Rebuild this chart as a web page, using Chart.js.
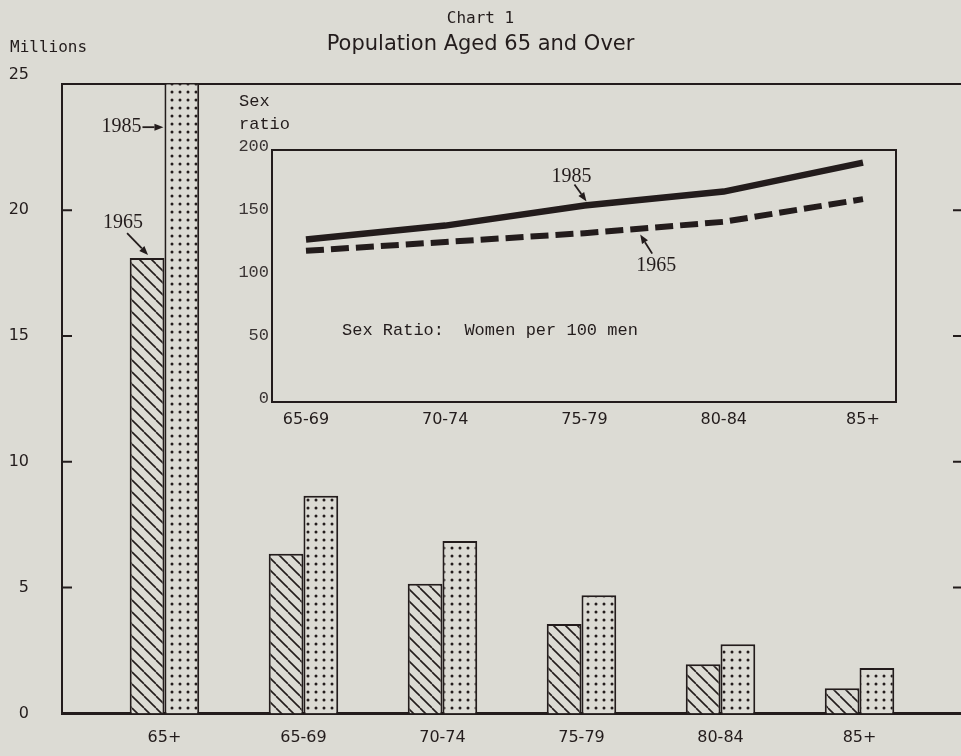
<!DOCTYPE html>
<html>
<head>
<meta charset="utf-8">
<script src="https://cdn.jsdelivr.net/npm/chart.js@4.4.1/dist/chart.umd.min.js"></script>
<style>
  html, body { margin: 0; padding: 0; background: #dcdbd4; }
  #wrap { position: relative; width: 961px; height: 756px; overflow: hidden; }
  #wrap canvas { position: absolute; left: 0; top: 0; }
</style>
</head>
<body>
<div id="wrap">
  <canvas id="main" width="961" height="756"></canvas>
  <canvas id="inset" width="961" height="756"></canvas>
</div>
<script>
const ageGroups = ['65+', '65-69', '70-74', '75-79', '80-84', '85+'];
const pop1965 = [18.1, 6.35, 5.15, 3.55, 1.95, 1.0];
const pop1985 = [26.5, 8.65, 6.85, 4.7, 2.75, 1.8];
const popTicks = [0, 5, 10, 15, 20, 25];

const ratioGroups = ['65-69', '70-74', '75-79', '80-84', '85+'];
const ratio1965 = [120, 127, 134, 143, 161];
const ratio1985 = [129, 140, 156, 167, 190];
const ratioTicks = [0, 50, 100, 150, 200];

const INK = '#231c1c';
const PAPER = '#dcdbd4';
const SANS = "'DejaVu Sans', sans-serif";
const MONO = "'DejaVu Sans Mono', monospace";
const TYPE = "'Liberation Mono', 'Courier New', monospace";
const SERIF = "'Liberation Serif', serif";

const mainCtx = document.getElementById('main').getContext('2d');

function hatchPattern() {
  const c = document.createElement('canvas');
  c.width = 12; c.height = 12;
  const g = c.getContext('2d');
  g.fillStyle = PAPER; g.fillRect(0, 0, 12, 12);
  g.strokeStyle = INK; g.lineWidth = 1.6;
  for (const k of [-12, 0, 12]) {
    g.beginPath(); g.moveTo(k, 0); g.lineTo(k + 12, 12); g.stroke();
  }
  return mainCtx.createPattern(c, 'repeat');
}

function dotPattern() {
  const c = document.createElement('canvas');
  c.width = 8; c.height = 8;
  const g = c.getContext('2d');
  g.fillStyle = PAPER; g.fillRect(0, 0, 8, 8);
  g.fillStyle = INK;
  g.beginPath(); g.arc(4, 4, 1.5, 0, Math.PI * 2); g.fill();
  return mainCtx.createPattern(c, 'repeat');
}

function arrow(ctx, x0, y0, x1, y1) {
  const ang = Math.atan2(y1 - y0, x1 - x0), L = 9, W = 3.5;
  const bx = x1 - L * Math.cos(ang), by = y1 - L * Math.sin(ang);
  ctx.lineWidth = 1.8;
  ctx.beginPath(); ctx.moveTo(x0, y0); ctx.lineTo(bx, by); ctx.stroke();
  ctx.beginPath(); ctx.moveTo(x1, y1);
  ctx.lineTo(bx + W * Math.sin(ang), by - W * Math.cos(ang));
  ctx.lineTo(bx - W * Math.sin(ang), by + W * Math.cos(ang));
  ctx.closePath(); ctx.fill();
}

// inward ticks, axis caption and the year pointers
const mainMarks = {
  id: 'mainMarks',
  afterDraw(chart) {
    const { ctx, chartArea: a, scales: { y } } = chart;
    ctx.save();
    ctx.strokeStyle = INK; ctx.fillStyle = INK; ctx.lineWidth = 2;
    popTicks.slice(1, -1).forEach(v => {
      const py = y.getPixelForValue(v);
      ctx.beginPath();
      ctx.moveTo(a.left, py); ctx.lineTo(a.left + 10, py);
      ctx.moveTo(a.right - 8, py); ctx.lineTo(a.right, py);
      ctx.stroke();
    });

    ctx.font = '16px ' + MONO;
    ctx.textBaseline = 'middle'; ctx.textAlign = 'left';
    ctx.fillText('Millions', 10, 48);

    const b65 = chart.getDatasetMeta(0).data[0];
    const b85 = chart.getDatasetMeta(1).data[0];
    ctx.font = '20px ' + SERIF;

    const t85x = b85.x - b85.width / 2 - 1, t85y = y.getPixelForValue(23.3);
    ctx.textAlign = 'right';
    ctx.fillText('1985', t85x - 22, t85y);
    arrow(ctx, t85x - 21, t85y, t85x, t85y);

    const t65x = b65.x + 1, t65y = b65.y - 3;
    ctx.textAlign = 'center';
    ctx.fillText('1965', t65x - 25, t65y - 32);
    arrow(ctx, t65x - 21, t65y - 22, t65x, t65y);
    ctx.restore();
  }
};

new Chart(mainCtx, {
  type: 'bar',
  data: {
    datasets: [
      {
        label: '1965',
        data: pop1965.map((v, i) => ({ x: i, y: v })),
        backgroundColor: hatchPattern(),
        borderColor: INK,
        borderWidth: 2,
        categoryPercentage: 0.5,
        barPercentage: 1,
        clip: 0
      },
      {
        label: '1985',
        data: pop1985.map((v, i) => ({ x: i, y: v })),
        backgroundColor: dotPattern(),
        borderColor: INK,
        borderWidth: 2,
        categoryPercentage: 0.5,
        barPercentage: 1,
        clip: 0
      }
    ]
  },
  options: {
    responsive: false,
    animation: false,
    devicePixelRatio: 1,
    layout: { padding: 0 },
    plugins: {
      legend: { display: false },
      tooltip: { enabled: false },
      title: {
        display: true, text: 'Chart 1', color: INK,
        font: { family: MONO, size: 16, weight: 'normal' },
        padding: { top: 9, bottom: 0 }
      },
      subtitle: {
        display: true, text: 'Population Aged 65 and Over', color: INK,
        font: { family: SANS, size: 21, weight: 'normal' },
        padding: { top: 4, bottom: 0 }
      }
    },
    scales: {
      x: {
        type: 'linear', position: 'bottom', min: -0.737, max: 5.73, offset: false,
        afterBuildTicks: s => { s.ticks = ageGroups.map((_, i) => ({ value: i })); },
        afterFit: s => { s.height = 37; },
        grid: { display: false, drawTicks: false },
        border: { display: true, color: INK, width: 3 },
        ticks: {
          callback: v => ageGroups[v], color: INK,
          font: { family: SANS, size: 16 }, padding: 15,
          maxRotation: 0, autoSkip: false
        }
      },
      xTop: {
        type: 'linear', position: 'top', min: -0.737, max: 5.73, offset: false,
        afterFit: s => { s.height = 27; },
        grid: { display: false, drawTicks: false },
        border: { display: true, color: INK, width: 2 },
        ticks: { display: false }
      },
      y: {
        min: 0, max: 25,
        afterBuildTicks: s => { s.ticks = popTicks.map(v => ({ value: v })); },
        afterFit: s => { s.width = 62; },
        grid: { display: false, drawTicks: false },
        border: { display: true, color: INK, width: 2 },
        ticks: {
          color: INK, font: { family: SANS, size: 16 }, padding: 33,
          callback: v => (v === 25 ? ['25', ''] : String(v))
        }
      }
    }
  },
  plugins: [mainMarks]
});

// frame, captions and pointers of the sex ratio panel
const insetMarks = {
  id: 'insetMarks',
  afterDraw(chart) {
    const { ctx, chartArea: a, scales: { x, y } } = chart;
    ctx.save();
    ctx.strokeStyle = INK; ctx.fillStyle = INK; ctx.lineWidth = 2;
    ctx.strokeRect(a.left, a.top, a.right - a.left, a.bottom - a.top);

    ctx.font = '17px ' + TYPE;
    ctx.textBaseline = 'middle'; ctx.textAlign = 'left';
    ctx.fillText('Sex', a.left - 33, a.top - 49);
    ctx.fillText('ratio', a.left - 33, a.top - 26);
    ctx.fillText('Sex Ratio:  Women per 100 men', a.left + 70, a.top + 180);

    ctx.font = '20px ' + SERIF;
    ctx.textAlign = 'center';
    const p = chart.getDatasetMeta(0).data[2];
    const t85x = p.x + 2, t85y = p.y - 4;
    ctx.fillText('1985', t85x - 15, t85y - 25);
    arrow(ctx, t85x - 12, t85y - 17, t85x, t85y);

    const v = ratio1965[2] + (ratio1965[3] - ratio1965[2]) * 0.4;
    const t65x = x.getPixelForValue(2.4), t65y = y.getPixelForValue(v) + 6;
    ctx.fillText('1965', t65x + 16, t65y + 31);
    arrow(ctx, t65x + 12, t65y + 19, t65x, t65y);
    ctx.restore();
  }
};

new Chart(document.getElementById('inset'), {
  type: 'line',
  data: {
    datasets: [
      {
        label: '1985',
        data: ratio1985.map((v, i) => ({ x: i, y: v })),
        borderColor: INK, borderWidth: 6.5,
        pointRadius: 0, tension: 0, borderCapStyle: 'butt'
      },
      {
        label: '1965',
        data: ratio1965.map((v, i) => ({ x: i, y: v })),
        borderColor: INK, borderWidth: 6, borderDash: [18, 7],
        pointRadius: 0, tension: 0, borderCapStyle: 'butt'
      }
    ]
  },
  options: {
    responsive: false,
    animation: false,
    devicePixelRatio: 1,
    layout: { padding: { left: 222, right: 65, top: 150, bottom: 324 } },
    plugins: { legend: { display: false }, tooltip: { enabled: false } },
    scales: {
      x: {
        type: 'linear', min: -0.244, max: 4.237,
        afterBuildTicks: s => { s.ticks = ratioGroups.map((_, i) => ({ value: i })); },
        afterFit: s => { s.height = 30; },
        grid: { display: false, drawTicks: false },
        border: { display: false },
        ticks: {
          callback: v => ratioGroups[v], color: INK,
          font: { family: SANS, size: 16 }, padding: 8,
          maxRotation: 0, autoSkip: false
        }
      },
      y: {
        min: 0, max: 200,
        afterBuildTicks: s => { s.ticks = ratioTicks.map(v => ({ value: v })); },
        afterFit: s => { s.width = 50; },
        grid: { display: false, drawTicks: false },
        border: { display: false },
        ticks: {
          color: '#3a3434', font: { family: TYPE, size: 17 },
          padding: 3, labelOffset: -4
        }
      }
    }
  },
  plugins: [insetMarks]
});
</script>
</body>
</html>
